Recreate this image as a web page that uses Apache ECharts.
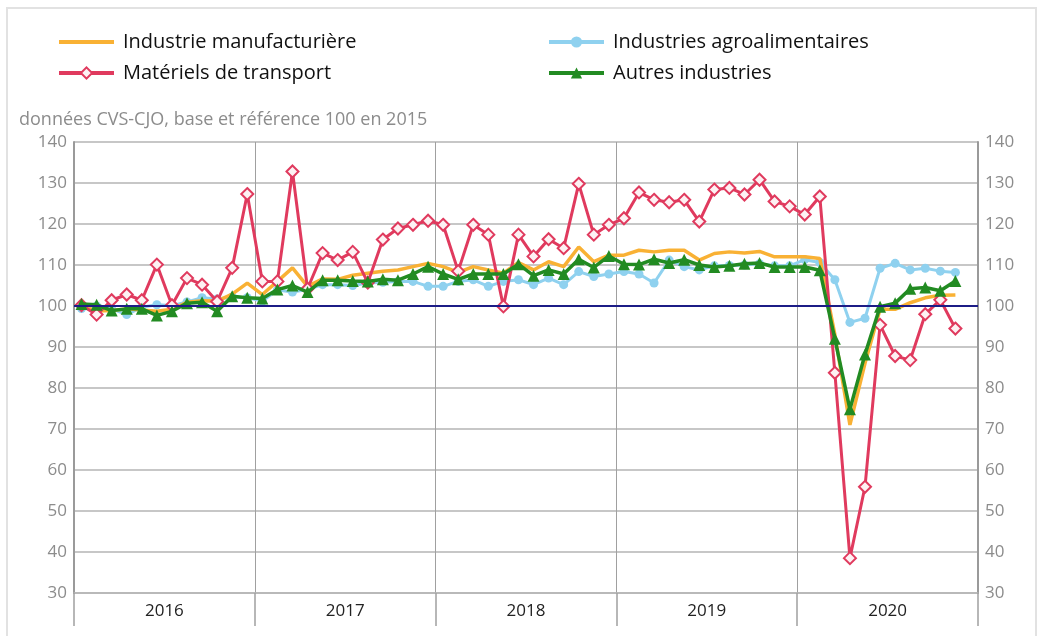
<!DOCTYPE html>
<html>
<head>
<meta charset="utf-8">
<script src="https://cdn.jsdelivr.net/npm/echarts@6/dist/echarts.min.js"></script>
<style>
  html, body { margin: 0; padding: 0; background: #fff; }
  #main { width: 1044px; height: 636px; }
</style>
</head>
<body>
<div id="main"></div>
<script>
const chartDom = document.getElementById("main");
const myChart = echarts.init(chartDom);

const years = ["2016", "2017", "2018", "2019", "2020"];
const monthNumbers = ["01", "02", "03", "04", "05", "06", "07", "08", "09", "10", "11", "12"];
const months = years.flatMap((y) => monthNumbers.map((m) => y + "-" + m));

const yTicks = { min: 30, max: 140, interval: 10 };

// Jan 2016 -> Nov 2020
const manufacturiere = [
    100.0, 98.8, 98.9, 99.3, 99.0, 98.7, 99.2, 100.9, 101.3, 101.2, 102.9, 105.6,
    102.8, 106.0, 109.3, 104.8, 106.6, 106.5, 107.5, 108.0, 108.5, 108.8, 109.6, 110.4,
    109.6, 108.2, 109.6, 108.8, 108.0, 110.6, 108.8, 110.8, 109.6, 114.4, 110.8, 112.4,
    112.4, 113.6, 113.2, 113.6, 113.6, 111.2, 112.8, 113.2, 112.9, 113.3, 112.0, 112.0,
    112.0, 111.6, 93.0, 71.0, 86.0, 99.2, 99.2, 100.8, 102.0, 102.6, 102.7
];
const agroalimentaires = [
    99.4, 100.0, 99.3, 97.9, 99.7, 100.3, 100.1, 101.0, 102.0, 101.7, 102.2, 102.0,
    101.2, 103.9, 103.4, 104.0, 105.2, 105.2, 105.0, 105.6, 105.8, 106.0, 106.0, 104.8,
    104.8, 106.0, 106.4, 104.8, 106.0, 106.4, 105.2, 106.8, 105.2, 108.4, 107.2, 107.8,
    108.4, 107.8, 105.6, 111.2, 109.6, 108.8, 109.8, 109.9, 110.0, 110.3, 109.8, 109.8,
    111.3, 110.6, 106.4, 96.0, 97.0, 109.2, 110.4, 108.8, 109.2, 108.5, 108.2
];
const transport = [
    100.2, 97.9, 101.4, 102.8, 101.4, 110.1, 100.2, 106.8, 105.2, 101.1, 109.3, 127.3,
    106.0, 106.0, 132.8, 104.2, 112.9, 111.2, 113.2, 105.7, 116.2, 118.9, 119.8, 120.8,
    119.8, 108.5, 119.8, 117.4, 99.9, 117.4, 112.1, 116.3, 114.1, 129.8, 117.4, 119.8,
    121.4, 127.7, 125.9, 125.3, 125.9, 120.6, 128.4, 128.8, 127.2, 130.8, 125.5, 124.3,
    122.3, 126.7, 83.7, 38.5, 55.9, 95.4, 87.8, 86.8, 98.0, 101.5, 94.5
];
const autres = [
    100.5, 100.3, 98.9, 99.3, 99.3, 97.7, 98.7, 100.7, 100.9, 98.7, 102.4, 102.0,
    101.8, 104.0, 105.0, 103.4, 106.3, 106.3, 106.1, 106.0, 106.5, 106.3, 107.8, 109.6,
    107.8, 106.5, 107.8, 107.8, 107.8, 110.2, 107.4, 108.8, 107.8, 111.4, 109.4, 112.2,
    110.2, 110.1, 111.4, 110.5, 111.3, 110.0, 109.5, 109.8, 110.3, 110.5, 109.5, 109.5,
    109.5, 108.7, 92.0, 74.8, 88.2, 99.8, 100.7, 104.2, 104.5, 103.7, 106.1
];

const FONT = "'Open Sans', 'Noto Sans', sans-serif";

const yAxisBase = {
    type: "value",
    min: yTicks.min,
    max: yTicks.max,
    interval: yTicks.interval,
    axisLine: { show: true, lineStyle: { color: "#9a9a9a", width: 2 } },
    axisTick: { show: false },
    splitLine: { show: true, lineStyle: { color: "#b5b5b5", width: 1.5 } },
    axisLabel: { color: "#8c8c8c", fontSize: 17, fontFamily: FONT, margin: 7 },
};

const legendBase = {
    orient: "vertical",
    top: 27,
    itemWidth: 55,
    itemHeight: 14,
    itemGap: 11,
    lineStyle: { width: 4 },
    textStyle: { color: "#111", fontSize: 20, fontFamily: FONT, padding: [0, 0, 0, 4] },
};

const option = {
    animation: false,
    textStyle: { fontFamily: FONT },
    title: {
        text: "données CVS-CJO, base et référence 100 en 2015",
        left: 14,
        top: 106,
        textStyle: { color: "#8c8c8c", fontSize: 18, fontWeight: "normal", fontFamily: FONT },
    },
    graphic: [
        {
            type: "rect",
            shape: { x: 7, y: 8, width: 1029, height: 640 },
            style: { fill: "none", stroke: "#e2e2e2", lineWidth: 2 },
            silent: true,
        },
    ],
    legend: [
        Object.assign({}, legendBase, {
            left: 52,
            data: [
                { name: "Industrie manufacturière", icon: "path://M0,0 L55,0 L55,4 L0,4 Z" },
                "Matériels de transport",
            ],
        }),
        Object.assign({}, legendBase, {
            left: 542,
            data: ["Industries agroalimentaires", "Autres industries"],
        }),
    ],
    grid: { left: 74, right: 66, top: 142, bottom: 43 },
    xAxis: [
        {
            type: "category",
            data: months,
            boundaryGap: true,
            show: false,
        },
        {
            type: "category",
            data: years,
            position: "bottom",
            boundaryGap: true,
            axisLine: { show: true, lineStyle: { color: "#b5b5b5", width: 1.5 } },
            axisTick: { show: true, length: 33, interval: 0, lineStyle: { color: "#a0a0a0", width: 1.5 } },
            splitLine: { show: true, interval: 0, lineStyle: { color: "#a0a0a0", width: 1 } },
            axisLabel: { color: "#222", fontSize: 17, fontFamily: FONT, margin: 10, interval: 0 },
        },
    ],
    yAxis: [
        Object.assign({}, yAxisBase, { position: "left" }),
        Object.assign({}, yAxisBase, { position: "right", splitLine: { show: false } }),
    ],
    series: [
        {
            name: "Industrie manufacturière",
            type: "line",
            xAxisIndex: 0,
            data: manufacturiere,
            showSymbol: false,
            symbol: "none",
            color: "#f9b134",
            lineStyle: { width: 3.5, color: "#f9b134" },
            markLine: {
                silent: true,
                symbol: "none",
                label: { show: false },
                lineStyle: { color: "#1c1c86", width: 2, type: "solid" },
                data: [{ yAxis: 100 }],
            },
            z: 2,
        },
        {
            name: "Industries agroalimentaires",
            type: "line",
            xAxisIndex: 0,
            data: agroalimentaires,
            symbol: "circle",
            symbolSize: 9,
            showAllSymbol: true,
            color: "#8fd1ef",
            lineStyle: { width: 3, color: "#8fd1ef" },
            itemStyle: { color: "#8fd1ef" },
            z: 1,
        },
        {
            name: "Matériels de transport",
            type: "line",
            xAxisIndex: 0,
            data: transport,
            symbol: "diamond",
            symbolSize: 12,
            showAllSymbol: true,
            color: "#e03a5e",
            lineStyle: { width: 3, color: "#e03a5e" },
            itemStyle: { color: "#fdf1f3", borderColor: "#e03a5e", borderWidth: 2 },
            z: 3,
        },
        {
            name: "Autres industries",
            type: "line",
            xAxisIndex: 0,
            data: autres,
            symbol: "triangle",
            symbolSize: 12,
            showAllSymbol: true,
            color: "#228b22",
            lineStyle: { width: 3.5, color: "#228b22" },
            itemStyle: { color: "#228b22" },
            z: 4,
        },
    ],
};

myChart.setOption(option);
</script>
</body>
</html>
